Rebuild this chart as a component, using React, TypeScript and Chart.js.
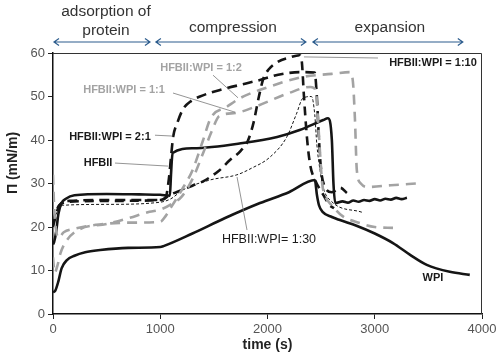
import React, { useEffect, useRef } from "react";
import { Chart, registerables } from "chart.js";

Chart.register(...registerables);

const FONT = '"Liberation Sans", Arial, sans-serif';

// ---- data (time in s, surface pressure in mN/m) ----
const wpiT = [0, 20, 50, 80, 130, 200, 300, 440, 700, 1000, 1030, 1300, 1600, 1930, 2200, 2442, 2460, 2480, 2516, 2600, 2675, 2830, 3000, 3170, 3330, 3485, 3700, 3886];
const wpiP = [5, 5.3, 7.5, 10.5, 12.4, 13.4, 14.2, 14.7, 15.2, 15.4, 15.6, 18.5, 22, 25.5, 28, 30.8, 27.5, 25, 23.4, 22.3, 21.6, 20.3, 18.5, 16.3, 13.6, 11.3, 9.7, 9];

const hfbT = [0, 10, 30, 50, 80, 120, 200, 500, 800, 1000, 1090, 1100, 1115, 1305, 1770, 2090, 2300, 2520, 2563, 2600, 2615, 2632, 2700, 2750, 2800, 2850, 2900, 2950, 3000, 3050, 3100, 3150, 3200, 3250, 3300];
const hfbP = [16, 16.5, 19, 23, 25.5, 26.5, 27.3, 27.6, 27.5, 27.4, 27.2, 32, 37, 38.1, 39.3, 40.7, 42.3, 44.6, 45, 40, 30, 25.5, 25.9, 25.6, 26.1, 25.8, 26.2, 26, 26.4, 26.1, 26.5, 26.3, 26.7, 26.4, 26.7];

const r21T = [0, 20, 60, 150, 500, 1000, 1050, 1080, 1100, 1120, 1160, 1210, 1290, 1370, 1556, 1800, 1930, 2100, 2300, 2440, 2460, 2480, 2500, 2530, 2600, 2680, 2740];
const r21P = [20, 22, 25, 26, 26.2, 26.2, 26.8, 31, 36, 40.7, 44, 47, 49, 50, 51.5, 53, 53.8, 55, 55.6, 55.5, 50, 40, 33, 29.5, 28, 29, 27.8];

const r110T = [0, 20, 60, 150, 500, 1000, 1100, 1200, 1300, 1400, 1550, 1650, 1750, 1820, 1870, 1920, 1960, 2010, 2100, 2200, 2300, 2320, 2340, 2370, 2400, 2440, 2520, 2580, 2620];
const r110P = [21, 23, 25, 25.8, 26, 26.2, 27.5, 28.5, 29.5, 30.5, 33, 35.4, 37.5, 40, 44, 50, 54, 56.2, 58, 58.9, 59.5, 58, 50, 40, 34, 31, 27.4, 25, 24.3];

const r130T = [0, 30, 60, 100, 500, 1000, 1100, 1210, 1463, 1715, 1850, 2020, 2180, 2270, 2330, 2410, 2440, 2460, 2490, 2520, 2600, 2880];
const r130P = [22, 23, 24.5, 25, 25.2, 25.7, 26.5, 28.5, 30.8, 32, 33.5, 36, 40.7, 46, 49.6, 50, 46, 39, 33, 29, 25.8, 23.4];

const r11T = [0, 15, 40, 70, 130, 250, 500, 700, 900, 1000, 1100, 1200, 1300, 1400, 1480, 1550, 1700, 1900, 2200, 2400, 2450, 2470, 2490, 2510, 2540, 2600, 2700, 2850, 3000, 3170];
const r11P = [13, 9.5, 11, 14, 17, 19.5, 20.7, 22, 23.5, 24, 25.2, 27, 31, 37, 42, 45.5, 46.2, 47.8, 50.8, 52.2, 51.5, 45, 37, 30, 27, 25, 22.5, 21, 20, 19.8];

const r12T = [0, 10, 25, 50, 100, 200, 400, 700, 1000, 1050, 1100, 1200, 1300, 1400, 1470, 1620, 1750, 2010, 2330, 2600, 2768, 2796, 2815, 2833, 2870, 2926, 3150, 3390];
const r12P = [32, 25, 20, 17.5, 18.8, 19.6, 20.5, 21, 21.2, 22.5, 24.5, 28.5, 33, 40, 45, 47.6, 49.7, 52.2, 54.5, 55.2, 55.6, 53.5, 45, 33, 30, 29.2, 29.6, 30];

const xTicks = [0, 1000, 2000, 3000, 4000];
const yTicks = [0, 10, 20, 30, 40, 50, 60];

// phases (time ranges) and their names
const phaseFrom = [0, 950, 2414];
const phaseTo = [904, 2358, 3821];
const phaseNames = [["adsorption of", "protein"], ["compression"], ["expansion"]];

// annotations: text, anchor (time, pressure), leader line (t1, p1, t2, p2)
const noteText = ["HFBII:WPI = 1:2", "HFBII:WPI = 1:1", "HFBII:WPI = 2:1", "HFBII", "HFBII:WPI = 1:10", "HFBII:WPI= 1:30", "WPI"];
const noteAt = [[1380, 56.5], [662, 51.5], [531, 40.7], [420, 34.7], [3543, 57.7], [2014, 17.2], [3543, 8.3]];
const noteLeader = [[1492, 54.9, 1725, 49.7], [1119, 50.8, 1697, 46.4], [951, 41.1, 1119, 40.9], [578, 34.7, 1072, 34.0], [3030, 58.85, 2340, 59.1], [1809, 19.3, 1716, 31.5], null];
const noteGray = [true, true, false, false, false, false, false];
const noteBold = [true, true, true, true, true, false, true];

const BLACK = "#151515";
const GRAY = "#a3a3a3";

function pts(t: number[], p: number[]) {
  return t.map((v, i) => ({ x: v, y: p[i] }));
}

const overlay = {
  id: "overlay",
  afterDraw(chart: any) {
    const { ctx, chartArea: a, scales } = chart;
    const x = scales.x;
    const y = scales.y;
    ctx.save();
    // box (top and right)
    ctx.strokeStyle = "#333";
    ctx.lineWidth = 1;
    ctx.beginPath();
    ctx.moveTo(a.left, a.top + 0.5);
    ctx.lineTo(a.right - 0.5, a.top + 0.5);
    ctx.lineTo(a.right - 0.5, a.bottom);
    ctx.stroke();

    // phase arrows
    const ay = 42;
    ctx.strokeStyle = "#2d5d8e";
    ctx.lineWidth = 1.2;
    for (let i = 0; i < phaseFrom.length; i++) {
      const x1 = x.getPixelForValue(phaseFrom[i]) + 1;
      const x2 = x.getPixelForValue(phaseTo[i]);
      ctx.beginPath();
      ctx.moveTo(x1, ay);
      ctx.lineTo(x2, ay);
      ctx.moveTo(x1 + 5, ay - 3.5);
      ctx.lineTo(x1, ay);
      ctx.lineTo(x1 + 5, ay + 3.5);
      ctx.moveTo(x2 - 5, ay - 3.5);
      ctx.lineTo(x2, ay);
      ctx.lineTo(x2 - 5, ay + 3.5);
      ctx.stroke();
      const cx = (x1 + x2) / 2 + 2;
      ctx.fillStyle = "#333";
      ctx.font = `15.5px ${FONT}`;
      ctx.textAlign = "center";
      ctx.textBaseline = "middle";
      const names = phaseNames[i];
      if (names.length === 2) {
        ctx.fillText(names[0], cx + 2, 12);
        ctx.fillText(names[1], cx + 2, 31);
      } else {
        ctx.fillText(names[0], cx, 28);
      }
    }

    // annotations
    for (let i = 0; i < noteText.length; i++) {
      const L = noteLeader[i];
      if (L) {
        ctx.strokeStyle = "#7a7a7a";
        ctx.lineWidth = 0.8;
        ctx.beginPath();
        ctx.moveTo(x.getPixelForValue(L[0]), y.getPixelForValue(L[1]));
        ctx.lineTo(x.getPixelForValue(L[2]), y.getPixelForValue(L[3]));
        ctx.stroke();
      }
      ctx.fillStyle = noteGray[i] ? GRAY : "#1a1a1a";
      ctx.font = noteBold[i] ? `bold 11px ${FONT}` : `12.5px ${FONT}`;
      ctx.textAlign = "center";
      ctx.textBaseline = "middle";
      ctx.fillText(noteText[i], x.getPixelForValue(noteAt[i][0]), y.getPixelForValue(noteAt[i][1]));
    }

    // axis titles
    ctx.fillStyle = "#222";
    ctx.font = `bold 14px ${FONT}`;
    ctx.textAlign = "center";
    ctx.textBaseline = "middle";
    ctx.fillText("time (s)", (a.left + a.right) / 2, 345);
    ctx.translate(13, 163);
    ctx.rotate(-Math.PI / 2);
    ctx.fillText("\u03A0 (mN/m)", 0, 0);
    ctx.restore();
  },
};

export default function App() {
  const ref = useRef<HTMLCanvasElement | null>(null);
  useEffect(() => {
    if (!ref.current) return;
    const thick = 2.6;
    const mk = (t: number[], p: number[], color: string, width: number, dash: number[]) => ({
      data: pts(t, p),
      borderColor: color,
      borderWidth: width,
      borderDash: dash,
      pointRadius: 0,
      fill: false,
      cubicInterpolationMode: "monotone" as const,
    });
    const chart = new Chart(ref.current, {
      type: "line",
      data: {
        datasets: [
          mk(r12T, r12P, GRAY, thick, [10, 7]),
          mk(r11T, r11P, GRAY, thick, [10, 7]),
          mk(wpiT, wpiP, BLACK, thick, []),
          mk(r130T, r130P, BLACK, 1, [3, 2]),
          mk(r110T, r110P, BLACK, thick, [9, 6]),
          mk(r21T, r21P, BLACK, thick, [10, 6]),
          mk(hfbT, hfbP, BLACK, thick, []),
        ],
      },
      options: {
        animation: false,
        responsive: false,
        devicePixelRatio: 1,
        layout: { padding: { top: 53, right: 22, left: 0, bottom: 0 } },
        plugins: { legend: { display: false }, tooltip: { enabled: false } },
        scales: {
          x: {
            type: "linear",
            min: 0,
            max: 4000,
            afterBuildTicks: (s: any) => {
              s.ticks = xTicks.map((v) => ({ value: v }));
            },
            afterFit: (s: any) => {
              s.height = 41;
            },
            ticks: {
              color: "#555",
              font: { size: 13, family: FONT },
              padding: 3,
              maxRotation: 0,
              callback: (v: any) => String(v),
            },
            grid: { display: true, drawOnChartArea: false, drawTicks: true, tickLength: 5, color: "#222" },
            border: { display: true, color: "#111", width: 1.5 },
          },
          y: {
            type: "linear",
            min: 0,
            max: 60,
            afterBuildTicks: (s: any) => {
              s.ticks = yTicks.map((v) => ({ value: v }));
            },
            afterFit: (s: any) => {
              s.width = 53;
            },
            ticks: { color: "#555", font: { size: 13, family: FONT }, padding: 3, callback: (v: any) => String(v) },
            grid: { display: true, drawOnChartArea: false, drawTicks: true, tickLength: 5, color: "#222" },
            border: { display: true, color: "#111", width: 1.5 },
          },
        },
      },
      plugins: [overlay],
    });
    return () => chart.destroy();
  }, []);
  return (
    <div style={{ position: "fixed", left: 0, top: 0, width: 504, height: 355, background: "#fff" }}>
      <canvas ref={ref} width={504} height={355} style={{ display: "block" }} />
    </div>
  );
}
